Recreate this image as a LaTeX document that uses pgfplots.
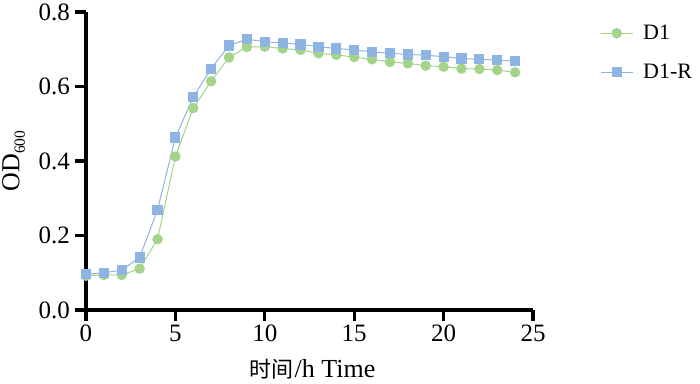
\documentclass[border=0pt]{standalone}
\usepackage{pgfplots}
\pgfplotsset{compat=1.18}
\usepackage{fontspec}
\setmainfont{Liberation Serif}
\newfontfamily\cjk{Noto Sans CJK SC}
\definecolor{cgreen}{HTML}{A3D48A}
\definecolor{cblue}{HTML}{8EB4E3}
\begin{document}
\begin{tikzpicture}
\begin{axis}[
  name=ax,
  scale only axis,
  width=447bp, height=298bp,
  xmin=0, xmax=25, ymin=0, ymax=0.8,
  xtick={0,5,10,15,20,25},
  ytick={0,0.2,0.4,0.6,0.8},
  axis x line*=bottom, axis y line*=left,
  axis line style={line width=3.2bp,-},
  major tick style={black,line width=3.2bp},
  tick align=outside,
  major tick length=11bp,
  tick label style={font=\fontsize{25bp}{28bp}\selectfont},
  /pgf/number format/assume math mode=true,
  yticklabel style={/pgf/number format/fixed,/pgf/number format/fixed zerofill,/pgf/number format/precision=1, inner xsep=0pt, xshift=-5bp},
  xticklabel style={inner ysep=0pt, yshift=-4bp},
  xlabel={{\fontsize{22bp}{24bp}\selectfont\cjk 时间}\kern1bp/h Time},
  ylabel={OD\raisebox{-0.45ex}{\fontsize{15.5bp}{16bp}\selectfont 600}},
  label style={font=\fontsize{26bp}{28bp}\selectfont},
  xlabel style={at={(axis description cs:0.5,0)}, anchor=base, yshift=-68bp, xshift=3bp, inner sep=0pt},
  ylabel style={at={(axis description cs:0,0.5)}, anchor=north, yshift=84bp, inner sep=0pt},
  legend style={draw=none, fill=none, at={(axis description cs:1,1)}, anchor=north west, xshift=67bp, yshift=-13bp,
    font=\fontsize{22bp}{24bp}\selectfont, row sep=23bp, inner sep=0pt,
    nodes={inner xsep=0pt, inner ysep=0pt}},
  legend cell align=left,
  legend image code/.code={\draw[mark repeat=2,mark phase=2,#1] plot coordinates {(0bp,0bp) (16bp,0bp) (32bp,0bp)}; \path (42bp,0bp);},
]
\addplot[cgreen, line width=1bp, mark=*, mark size=4.7bp, mark options={fill=cgreen, draw=cgreen}] coordinates {
(0,0.092) (1,0.094) (2,0.094) (3,0.111) (4,0.190) (5,0.412) (6,0.542) (7,0.614) (8,0.678)
(9,0.706) (10,0.707) (11,0.702) (12,0.698) (13,0.689) (14,0.685) (15,0.679) (16,0.673)
(17,0.666) (18,0.662) (19,0.656) (20,0.653) (21,0.648) (22,0.647) (23,0.644) (24,0.638)};
\addlegendentry{D1}
\addplot[cblue, line width=1bp, mark=square*, mark size=4.6bp, mark options={fill=cblue, draw=cblue}] coordinates {
(0,0.096) (1,0.100) (2,0.107) (3,0.141) (4,0.269) (5,0.463) (6,0.572) (7,0.648) (8,0.710)
(9,0.727) (10,0.720) (11,0.717) (12,0.713) (13,0.707) (14,0.702) (15,0.698) (16,0.693)
(17,0.689) (18,0.686) (19,0.684) (20,0.680) (21,0.675) (22,0.673) (23,0.671) (24,0.668)};
\addlegendentry{D1-R}
\end{axis}
\pgfresetboundingbox
\path (ax.south west)+(-86bp,-74bp) rectangle ([xshift=167bp,yshift=12bp]ax.north east);
\end{tikzpicture}
\end{document}
